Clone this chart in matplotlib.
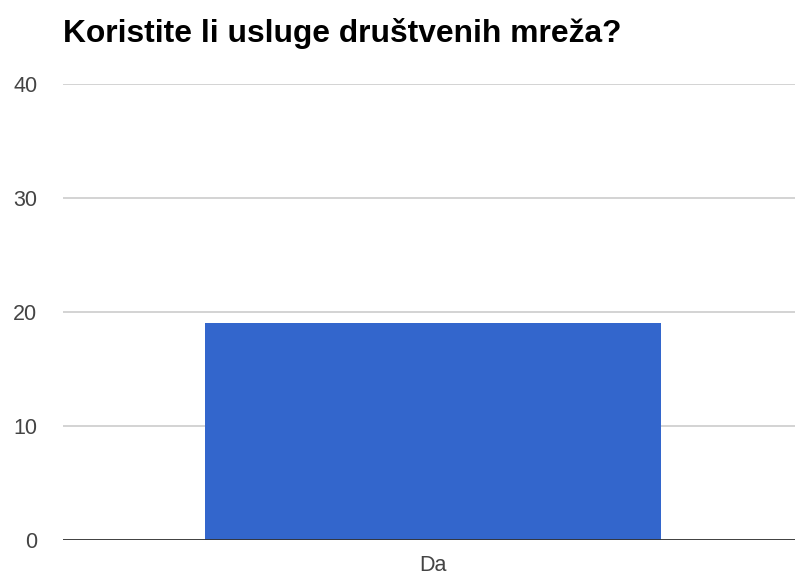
import matplotlib
matplotlib.use('Agg')
import matplotlib.pyplot as plt

categories = ['Da']
counts = [19]
y_ticks = [0, 10, 20, 30, 40]
title = 'Koristite li usluge društvenih mreža?'

plt.rcParams['font.family'] = ['Liberation Sans', 'DejaVu Sans']

figure = plt.figure(figsize=(7.95, 5.8), dpi=100)
axes = figure.add_axes([63 / 795, 40 / 580, 732 / 795, 456 / 580])

axes.bar(range(len(categories)), counts, width=0.623, color='#3366cc',
         zorder=2)

axes.set_xlim(-0.505, 0.495)
axes.set_ylim(0, 40)
axes.set_yticks(y_ticks)
axes.set_xticks(range(len(categories)))
axes.set_xticklabels(categories)

axes.grid(axis='y', color='#cccccc', lw=1.2, zorder=0)
axes.axhline(0, color='#333333', lw=2, zorder=3)
for side in ('top', 'right', 'left', 'bottom'):
    axes.spines[side].set_visible(False)
axes.tick_params(axis='both', length=0, labelsize=15.5, colors='#444444')
axes.tick_params(axis='y', pad=18.5)
axes.tick_params(axis='x', pad=11)

figure.text(63 / 795, 1 - 42 / 580, title, fontsize=22.9, fontweight='bold',
            va='baseline', ha='left', color='#000000')

figure.savefig('out.png', dpi=100)
